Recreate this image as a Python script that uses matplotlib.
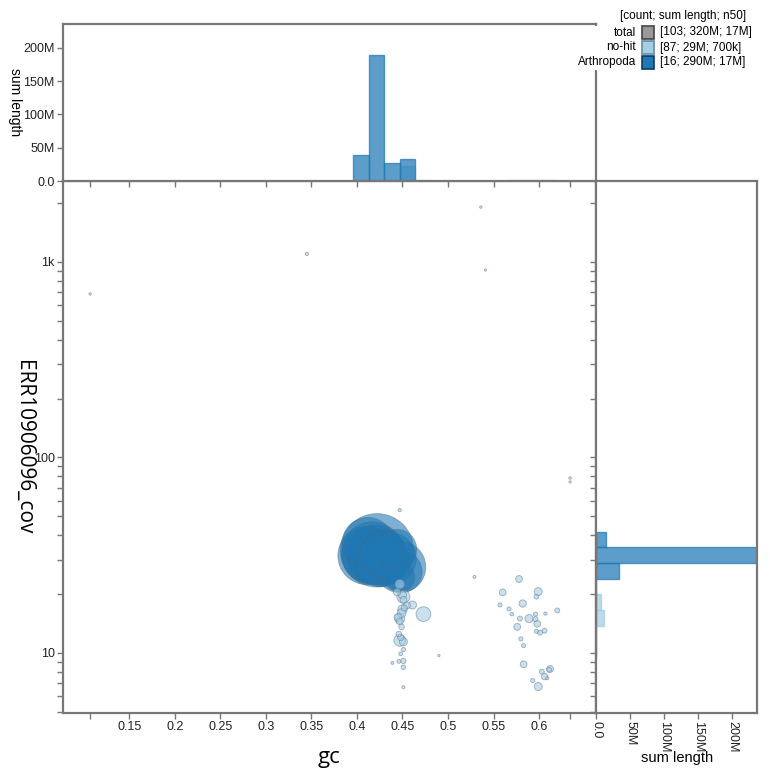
import matplotlib
matplotlib.use("Agg")
import matplotlib.pyplot as plt
import numpy as np
from matplotlib.patches import Rectangle

plt.rcParams['font.family'] = ['Liberation Sans', 'DejaVu Sans']

W, H = 770, 778

# ---- scatter data: gc, coverage, contig length (bp)
arth_gc = [0.422, 0.414, 0.425, 0.428, 0.419, 0.417, 0.426, 0.421, 0.429,
           0.411, 0.412, 0.437, 0.444, 0.449, 0.448, 0.4475]
arth_cov = [33.5, 31.5, 31.0, 30.0, 30.5, 32.5, 29.5, 31.8, 32.0,
            31.5, 36.5, 30.5, 34.0, 26.0, 24.3, 27.5]
arth_len = [35e6, 20e6, 20e6, 18e6, 17e6, 25e6, 17e6, 23e6, 14e6,
            22e6, 17e6, 17e6, 10e6, 11e6, 5e6, 17e6]

nohit_gc = [0.107, 0.345, 0.536, 0.541, 0.634, 0.634, 0.447, 0.529, 0.490,
            0.473, 0.461, 0.451, 0.450, 0.450, 0.447, 0.447, 0.449, 0.447, 0.451,
            0.451, 0.448, 0.446, 0.451, 0.451, 0.439, 0.451, 0.449, 0.445, 0.451,
            0.452, 0.455, 0.446, 0.448, 0.447, 0.444,
            0.578, 0.560, 0.599, 0.597, 0.582, 0.557, 0.567, 0.570, 0.579, 0.589,
            0.596, 0.596, 0.607, 0.620, 0.598, 0.576, 0.597, 0.601, 0.606, 0.580,
            0.583, 0.583, 0.603, 0.612, 0.611, 0.606, 0.609, 0.593, 0.599]
nohit_cov = [686, 1099, 1910, 910, 78.5, 75.0, 53.8, 24.5, 9.7,
             15.8, 17.6, 18.7, 19.8, 16.7, 15.0, 14.5, 13.6, 11.6, 11.4,
             10.4, 9.9, 9.06, 9.1, 8.45, 8.9, 6.68, 16.0, 15.2, 19.4,
             17.0, 17.5, 12.5, 12.0, 22.5, 20.5,
             23.9, 20.4, 20.6, 19.4, 17.9, 17.6, 16.8, 15.8, 15.0, 15.0,
             15.8, 14.9, 15.9, 16.5, 14.1, 13.6, 12.9, 12.7, 13.0, 11.8,
             10.9, 8.75, 8.02, 8.28, 8.2, 7.57, 7.43, 7.22, 6.73]
nohit_len = [40e3, 70e3, 40e3, 35e3, 45e3, 35e3, 70e3, 60e3, 35e3,
             1400e3, 420e3, 300e3, 420e3, 550e3, 650e3, 300e3, 200e3, 900e3, 420e3,
             120e3, 90e3, 100e3, 180e3, 130e3, 60e3, 60e3, 500e3, 380e3, 1100e3,
             250e3, 300e3, 200e3, 250e3, 600e3, 350e3,
             300e3, 300e3, 420e3, 150e3, 350e3, 110e3, 110e3, 80e3, 160e3, 420e3,
             110e3, 160e3, 70e3, 160e3, 300e3, 300e3, 110e3, 160e3, 160e3, 110e3,
             110e3, 300e3, 160e3, 300e3, 150e3, 250e3, 70e3, 110e3, 420e3]

# ---- histogram data (sum length per bin)
gc_bin_lo = [0.396, 0.413, 0.430, 0.447, 0.464, 0.567, 0.584, 0.601]
gc_bin_w = 0.0171
arth_gc_sum = [39e6, 189e6, 27e6, 33e6, 0, 0, 0, 0]
nohit_gc_sum = [0, 0, 0, 22e6, 1.5e6, 0.9e6, 1.4e6, 0.9e6]

cov_edges = [9.48, 11.42, 13.74, 16.54, 19.91, 23.96, 28.84, 34.71, 41.78]
arth_cov_sum = [0, 0, 0, 0, 0, 33e6, 236e6, 15e6]
nohit_cov_sum = [0.6e6, 0.7e6, 11e6, 7e6, 0, 0, 0, 0]

# ---- legend
leg_labels = ['total', 'no-hit', 'Arthropoda']
leg_values = ['[103; 320M; 17M]', '[87; 29M; 700k]', '[16; 290M; 17M]']
leg_colors = ['#999999', '#a6cee3', '#1f78b4']
leg_edges = ['#444444', '#5f8ea8', '#0b3d66']

x_ticks = [0.15, 0.2, 0.25, 0.3, 0.35, 0.4, 0.45, 0.5, 0.55, 0.6]
x_labels = ['0.15', '0.2', '0.25', '0.3', '0.35', '0.4', '0.45', '0.5', '0.55', '0.6']
y_ticks = [10, 100, 1000]
y_labels = ['10', '100', '1k']
len_ticks = [0, 50e6, 100e6, 150e6, 200e6]
len_labels = ['0.0', '50M', '100M', '150M', '200M']

c_arth = '#1f78b4'
c_nohit = '#a6cee3'
axis_col = '#777777'


def rect(l, t, r, b):
    return [l / W, 1 - b / H, (r - l) / W, (b - t) / H]


fig = plt.figure(figsize=(W / 100, H / 100), dpi=100)
ax = fig.add_axes(rect(63, 181, 596, 713))
axt = fig.add_axes(rect(63, 24, 596, 181))
axr = fig.add_axes(rect(596, 181, 757, 713))

xmin, xmax = 0.0772, 0.6625
ymin, ymax = 4.93, 2596
lmax = 236e6

# scatter, large circles first
gc = np.array(arth_gc + nohit_gc)
cov = np.array(arth_cov + nohit_cov)
ln = np.array(arth_len + nohit_len)
is_arth = np.array([True] * len(arth_gc) + [False] * len(nohit_gc))
order = np.argsort(-ln)
face = np.where(is_arth[order, None],
                np.array([[0.122, 0.471, 0.706, 0.58]]),
                np.array([[0.651, 0.808, 0.890, 0.6]]))
edge = np.where(is_arth[order, None],
                np.array([[0.3, 0.4, 0.5, 0.45]]),
                np.array([[0.35, 0.45, 0.55, 0.55]]))
ax.scatter(gc[order], cov[order], s=ln[order] / 1e6 * 80,
           facecolors=face, edgecolors=edge, linewidths=0.6, zorder=3)

ax.set_yscale('log')
ax.set_xlim(xmin, xmax)
ax.set_ylim(ymin, ymax)
ax.set_xticks([min(gc)] + x_ticks + [max(gc)])
ax.set_xticklabels([''] + x_labels + [''])
ax.set_yticks(y_ticks)
ax.set_yticklabels(y_labels)
minor = [m * 10 ** e for e in range(0, 4) for m in range(2, 10)]
minor = [v for v in minor if ymin < v < ymax and v not in y_ticks]
ax.set_yticks(minor, minor=True)
ax.set_yticklabels([''] * len(minor), minor=True)
ax.tick_params(axis='x', which='minor', bottom=False)

# top histogram (no-hit first, Arthropoda on top)
axt.bar(gc_bin_lo, nohit_gc_sum, width=gc_bin_w, align='edge',
        color=c_nohit, alpha=0.75, edgecolor=c_nohit, linewidth=1)
axt.bar(gc_bin_lo, arth_gc_sum, width=gc_bin_w, align='edge',
        color=c_arth, alpha=0.72, edgecolor=c_arth, linewidth=1)
axt.set_xlim(xmin, xmax)
axt.set_ylim(0, lmax)
axt.set_xticks([min(gc)] + x_ticks + [max(gc)])
axt.set_xticklabels([])
axt.set_yticks(len_ticks)
axt.set_yticklabels(len_labels)

# right histogram
lo = np.array(cov_edges[:-1])
hi = np.array(cov_edges[1:])
axr.barh(lo, nohit_cov_sum, height=hi - lo, align='edge',
         color=c_nohit, alpha=0.75, edgecolor=c_nohit, linewidth=1)
axr.barh(lo, arth_cov_sum, height=hi - lo, align='edge',
         color=c_arth, alpha=0.72, edgecolor=c_arth, linewidth=1)
axr.set_yscale('log')
axr.set_ylim(ymin, ymax)
axr.set_xlim(0, lmax)
axr.set_yticks(y_ticks)
axr.set_yticklabels([])
axr.set_yticks(minor, minor=True)
axr.set_yticklabels([''] * len(minor), minor=True)
axr.set_xticks(len_ticks)
axr.set_xticklabels(len_labels, rotation=270)

for a in (ax, axt, axr):
    for sp in a.spines.values():
        sp.set_color(axis_col)
        sp.set_linewidth(1.6)
    a.tick_params(which='both', direction='out', length=4, width=1,
                  color=axis_col, labelsize=9, labelcolor='#222222', pad=2)

# axis titles
fig.text(329 / W, 1 - 757 / H, 'gc', fontsize=16, family='Open Sans',
         ha='center', va='center')
fig.text(23 / W, 1 - 447 / H, 'ERR10906096_cov', fontsize=15, family='Open Sans',
         rotation=270, ha='center', va='center')
fig.text(677 / W, 1 - 758 / H, 'sum length', fontsize=10.5, ha='center', va='center')
fig.text(15 / W, 1 - 102 / H, 'sum length', fontsize=10, rotation=270,
         ha='center', va='center')

# legend
fig.add_artist(Rectangle((570 / W, 1 - 70 / H), 200 / W, 44 / H,
                         transform=fig.transFigure, facecolor='white',
                         edgecolor='none', zorder=5))
fig.text(683 / W, 1 - 16 / H, '[count; sum length; n50]', fontsize=8.5,
         ha='center', va='center', zorder=6)
for i, (lab, val, fc, ec) in enumerate(zip(leg_labels, leg_values, leg_colors, leg_edges)):
    yc = 32.5 + 15 * i
    fig.text(636 / W, 1 - yc / H, lab, fontsize=8.5, ha='right', va='center', zorder=6)
    fig.add_artist(Rectangle((642 / W, 1 - (yc + 6) / H), 12 / W, 12 / H,
                             transform=fig.transFigure, facecolor=fc,
                             edgecolor=ec, linewidth=1.2, zorder=6))
    fig.text(660 / W, 1 - yc / H, val, fontsize=8.5, ha='left', va='center', zorder=6)

fig.savefig('out.png', dpi=100)
